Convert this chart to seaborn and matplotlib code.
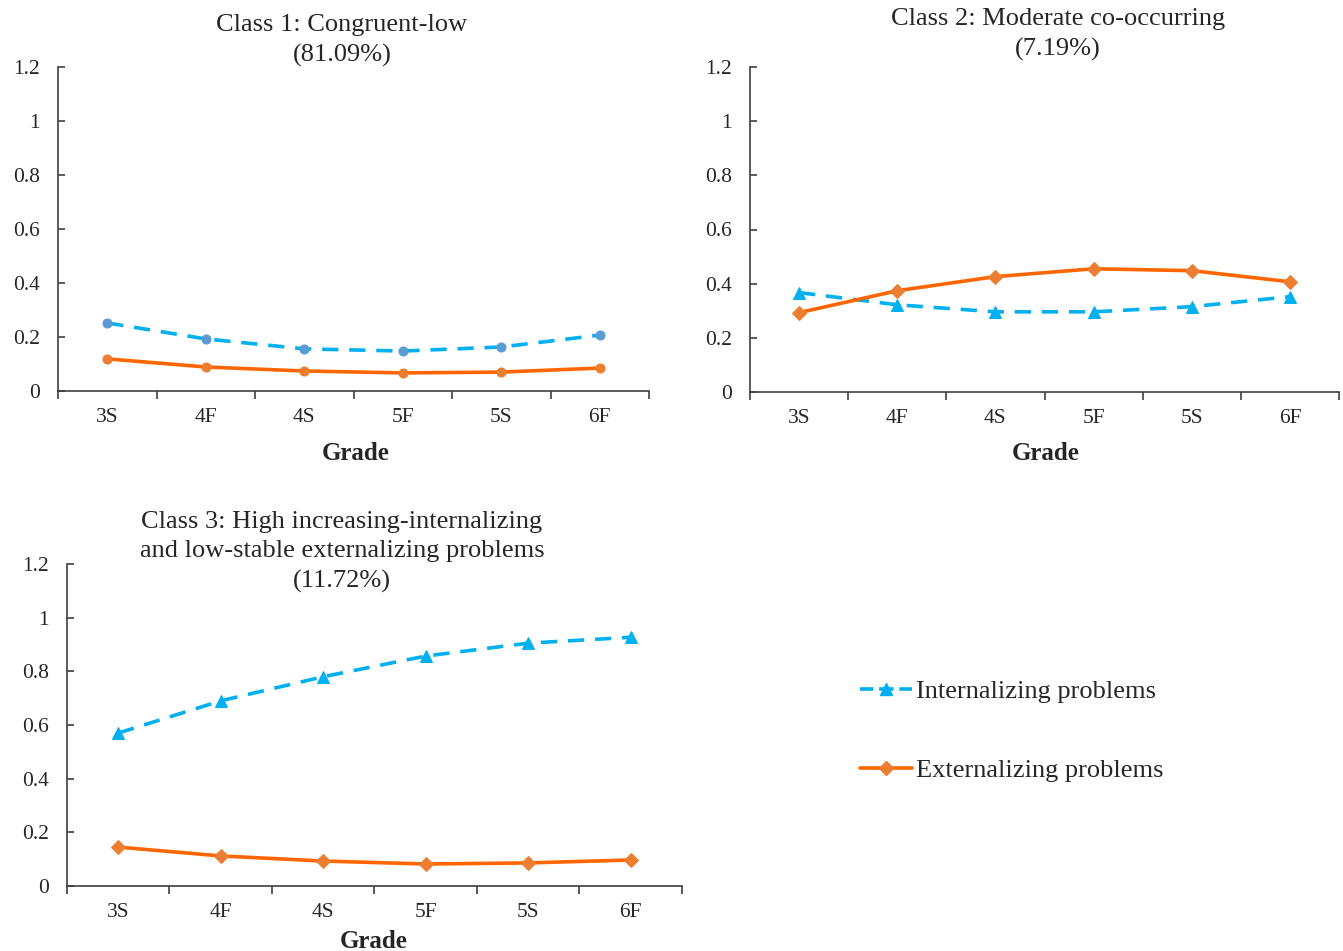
import numpy as np
import pandas as pd
import matplotlib
matplotlib.use("Agg")
import matplotlib.pyplot as plt
from matplotlib.lines import Line2D
import seaborn as sns

sns.set_style("white")
plt.rcParams['font.family'] = ['Liberation Serif', 'DejaVu Serif']

grades = ["3S", "4F", "4S", "5F", "5S", "6F"]

# class 1: congruent-low
c1_internal = [0.252, 0.193, 0.156, 0.148, 0.163, 0.207]
c1_external = [0.119, 0.089, 0.074, 0.067, 0.070, 0.085]
# class 2: moderate co-occurring
c2_internal = [0.367, 0.322, 0.296, 0.296, 0.315, 0.352]
c2_external = [0.293, 0.374, 0.426, 0.455, 0.448, 0.407]
# class 3: high increasing-internalizing
c3_internal = [0.570, 0.690, 0.780, 0.857, 0.905, 0.927]
c3_external = [0.145, 0.112, 0.093, 0.082, 0.086, 0.097]

titles = ["Class 1: Congruent-low\n(81.09%)",
          "Class 2: Moderate co-occurring\n(7.19%)",
          "Class 3: High increasing-internalizing\nand low-stable externalizing problems\n(11.72%)"]

INT_LINE = "#00B0F0"
EXT_LINE = "#FF6600"
INT_MARK_C1 = "#5B9BD5"
EXT_MARK = "#ED7D31"

fig = plt.figure(figsize=(13.43, 9.51), dpi=100)
W, H = 1343, 951

def px_axes(left, right, top, bottom):
    return fig.add_axes([left / W, 1 - bottom / H, (right - left) / W, (bottom - top) / H])

ax1 = px_axes(58, 649, 67, 391)
ax2 = px_axes(750, 1339, 67, 392)
ax3 = px_axes(67, 682, 564, 886)

panels = [
    (ax1, c1_internal, c1_external, "o", "o", 6.5, 6.5, INT_MARK_C1),
    (ax2, c2_internal, c2_external, "^", "D", 9, 7, INT_LINE),
    (ax3, c3_internal, c3_external, "^", "D", 9, 7, INT_LINE),
]

for ax, yi, ye, mi, me, msi, mse, mci in panels:
    sns.lineplot(x=np.arange(6), y=yi, ax=ax, color=INT_LINE, linewidth=2.6,
                 linestyle=(0, (4.5, 3)), marker=mi, markersize=msi,
                 markerfacecolor=mci, markeredgecolor=mci, sort=False)
    sns.lineplot(x=np.arange(6), y=ye, ax=ax, color=EXT_LINE, linewidth=2.6,
                 marker=me, markersize=mse, markerfacecolor=EXT_MARK,
                 markeredgecolor=EXT_MARK, sort=False)
    ax.set_xlim(-0.5, 5.5)
    ax.set_ylim(0, 1.2)
    ax.set_yticks(np.arange(0, 1.21, 0.2))
    ax.set_yticklabels(["0", "0.2", "0.4", "0.6", "0.8", "1", "1.2"], fontsize=15.5)
    ax.set_xticks(np.arange(6))
    ax.set_xticklabels(grades, fontsize=15.5)
    ax.set_xticks(np.arange(-0.5, 5.6, 1), minor=True)
    ax.tick_params(axis="x", which="major", bottom=True, length=0, pad=12)
    ax.tick_params(axis="x", which="minor", bottom=True, length=6, width=1.2,
                   color="#404040", direction="out")
    ax.tick_params(axis="y", left=True, length=5, width=1.2, color="#404040",
                   direction="in", pad=13)
    ax.set_xlabel("")
    ax.set_ylabel("")
    for s in ["top", "right"]:
        ax.spines[s].set_visible(False)
    for s in ["left", "bottom"]:
        ax.spines[s].set_color("#404040")
        ax.spines[s].set_linewidth(1.2)

# titles and axis labels placed in pixel terms
fig.text(342 / W, 1 - 14 / H, titles[0], ha="center", va="top", fontsize=19, linespacing=1.42)
fig.text(1058 / W, 1 - 8 / H, titles[1], ha="center", va="top", fontsize=19, linespacing=1.42)
fig.text(342 / W, 1 - 511 / H, titles[2], ha="center", va="top", fontsize=19, linespacing=1.42)

fig.text(356 / W, 1 - 454 / H, "Grade", ha="center", va="center", fontsize=18, fontweight="bold")
fig.text(1046 / W, 1 - 454 / H, "Grade", ha="center", va="center", fontsize=18, fontweight="bold")
fig.text(374 / W, 1 - 941 / H, "Grade", ha="center", va="center", fontsize=18, fontweight="bold")

handles = [
    Line2D([], [], color=INT_LINE, linewidth=2.6, linestyle=(0.3, (4, 1.6)), marker="^",
           markersize=9, markerfacecolor=INT_LINE, markeredgecolor=INT_LINE),
    Line2D([], [], color=EXT_LINE, linewidth=2.6, marker="D", markersize=7,
           markerfacecolor=EXT_MARK, markeredgecolor=EXT_MARK),
]
fig.legend(handles, ["Internalizing problems", "Externalizing problems"],
           loc="center left", bbox_to_anchor=(839 / W, 1 - 731 / H), frameon=False,
           fontsize=19, labelspacing=2.1, handlelength=1.95, handletextpad=0.15,
           borderpad=0.3)

plt.savefig("out.png", dpi=100)
